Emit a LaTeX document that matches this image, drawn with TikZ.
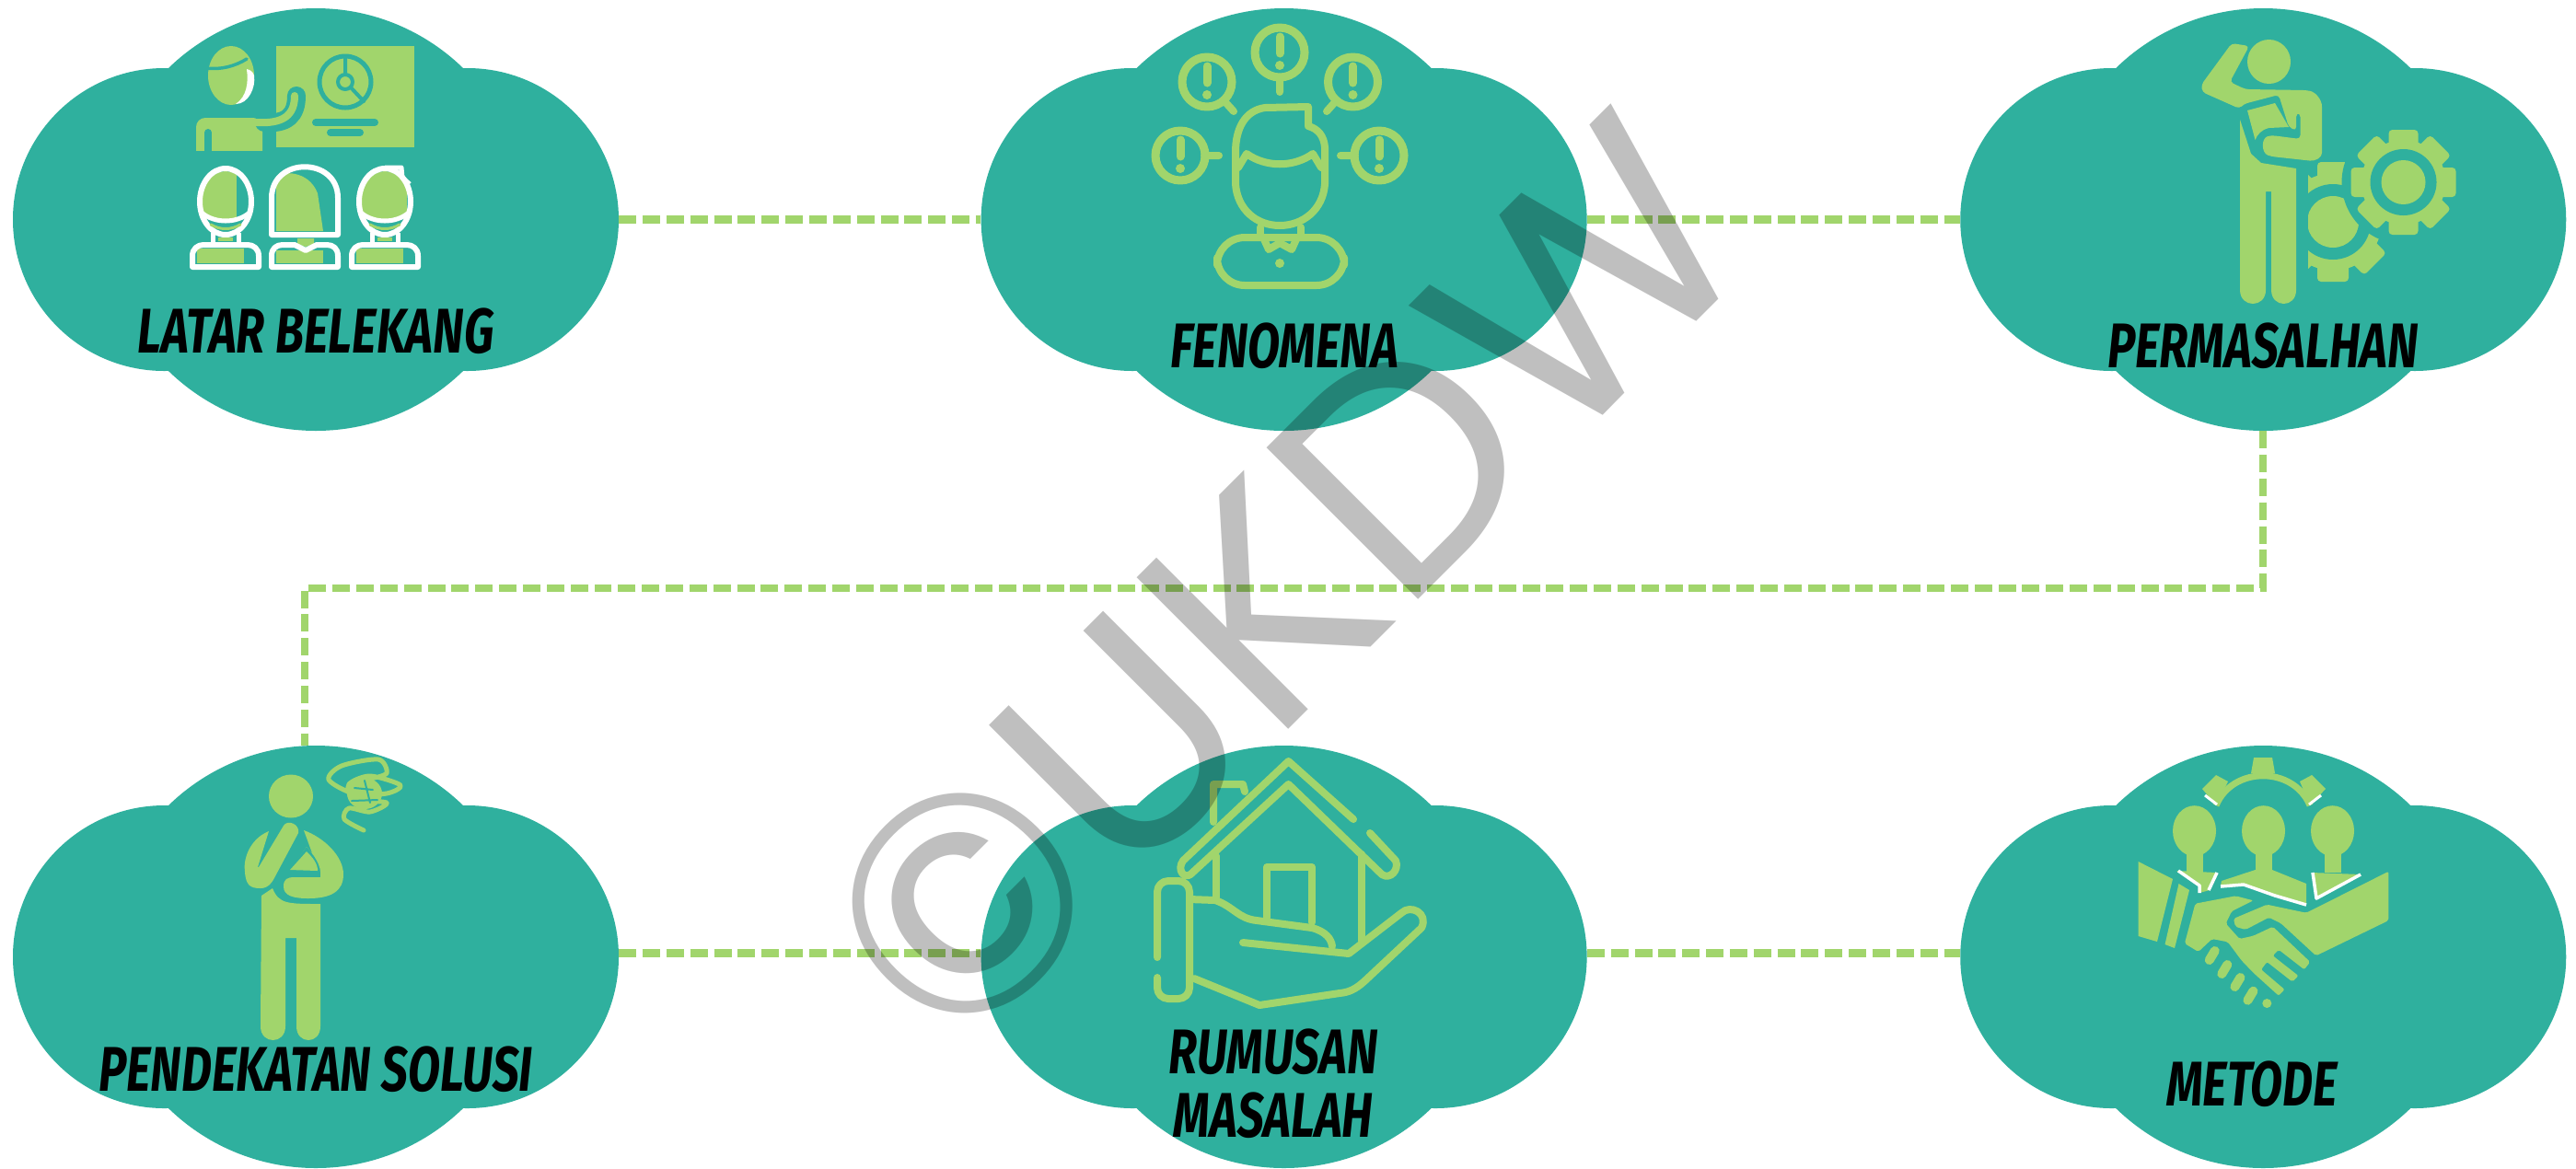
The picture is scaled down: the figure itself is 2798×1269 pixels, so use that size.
\documentclass[tikz,border=0pt]{standalone}
\usepackage{fontspec}
\usepackage{xcolor}
\usepackage{tikz}
\usetikzlibrary{positioning,calc}
\newfontfamily\brushfont[FakeStretch=.745]{Fira Sans}
\newfontfamily\markfont{Poppins}
\definecolor{clumpteal}{HTML}{2FB09E}
\definecolor{leafgreen}{HTML}{A1D56C}
\newcommand{\clumppath}{(0,0) circle[radius=229.5] (-164.5,0) circle[radius=164.5] (164.5,0) circle[radius=164.5]}

\begin{document}
\begin{tikzpicture}[x=.01cm, y=-.01cm,
  clump/.style={minimum width=6.58cm, minimum height=4.59cm, inner sep=0pt, outer sep=0pt,
    path picture={\fill[clumpteal, nonzero rule, shift={(path picture bounding box.center)}] \clumppath;}},
  brush/.style={font=\brushfont\fontsize{19.5}{19.6}\selectfont\bfseries\itshape, align=center, inner sep=0pt},
  link/.style={draw=leafgreen, line width=.085cm, dash pattern=on 5.4pt off 1.95pt},
  leaf/.style={fill=leafgreen},
  tealfill/.style={fill=clumpteal},
  leafline/.style={draw=leafgreen, line width=.08cm, line cap=round, line join=round},
  tealline/.style={draw=clumpteal, line cap=round, line join=round},
  whiteline/.style={draw=white, line join=round},
  stamp/.style={font=\markfont\fontsize{95}{95}\selectfont, text=black, text opacity=.25, inner sep=0pt},
]
\useasboundingbox (0,0) rectangle (2798,1269);
\fill[white] (0,0) rectangle (2798,1269);

% Clouds, top row
\node[clump] (latar) at (343,238.5) {};
\node[clump, right=3.93cm of latar] (fenomena) {};
\node[clump, right=4.05cm of fenomena] (masalah) {};

% Clouds, bottom row
\node[clump] (solusi) at (343,1039.5) {};
\node[clump, right=3.93cm of solusi] (rumusan) {};
\node[clump, right=4.05cm of rumusan] (metode) {};

% Dashed links
\coordinate (turnright) at (2458,639);
\coordinate (turnleft) at (331,639);
\draw[link] (latar.east) -- (fenomena.west);
\draw[link] (fenomena.east) -- (masalah.west);
\draw[link] (masalah.south -| turnright) -- (turnright) -- (turnleft) -- (solusi.north -| turnleft);
\draw[link] (solusi.east |- 0,1035.5) -- (rumusan.west |- 0,1035.5);
\draw[link] (rumusan.east |- 0,1035.5) -- (metode.west |- 0,1035.5);

% Icon: teacher and pupils
\fill[leaf] (300,50) rectangle (450,160);
\draw[tealline, line width=.05cm] (375,89) circle[radius=28];
\draw[tealline, line width=.04cm] (375,61) -- (375,80) (375,89) circle[radius=8] (381,95) -- (395,110);
\draw[tealline, line width=.08cm] (343,133) -- (407,133);
\draw[tealline, line width=.08cm] (359,144) -- (391,144);
\fill[leaf] (251,82) ellipse[x radius=25, y radius=32];
\fill[white] (268,75) .. controls (270,90) and (268,105) .. (256,113) .. controls (270,113) and (278,95) .. (276,82) .. controls (275,78) and (272,76) .. (268,75) -- cycle;
\draw[tealline, line width=.035cm] (224,74) .. controls (240,76) and (255,72) .. (268,64);
\fill[leaf, rounded corners=.1cm] (213,185) -- (213,128) -- (285,128) -- (285,185) -- cycle;
\fill[clumpteal] (205,164) rectangle (299,190);
\draw[tealline, line width=.08cm] (226,170) -- (226,144);
\draw[tealline, line width=.2cm] (287,133) .. controls (312,135) and (322,125) .. (322,104);
\draw[draw=leafgreen, line width=.08cm, line cap=round] (277,133) .. controls (308,135) and (320,125) .. (320,104);
\foreach \cx/\gr in {245/12, 418/24} {
  \begin{scope}[shift={(\cx,0)}]
    \begin{scope}
      \clip (0,219) ellipse[x radius=26, y radius=33];
      \fill[leaf] (-30,180) rectangle (\gr,238);
    \end{scope}
    \draw[whiteline, line width=.06cm] (0,219) ellipse[x radius=28, y radius=36];
    \draw[whiteline, line width=.05cm] (-26,231) .. controls (-12,243) and (12,243) .. (26,231);
    \draw[leafline, line width=.03cm] (-16,244) .. controls (-6,250) and (6,250) .. (16,244);
    \fill[leaf] (-8,258) rectangle (8,262);
    \draw[whiteline, line width=.05cm] (-14,253) -- (-14,264) (14,253) -- (14,264);
    \fill[leaf] (-31,270) rectangle (20,286);
    \draw[whiteline, line width=.06cm] (-36,290) -- (-36,278) .. controls (-36,270) and (-30,266) .. (-24,266) -- (24,266) .. controls (30,266) and (36,270) .. (36,278) -- (36,290) -- cycle;
  \end{scope}
}
\draw[whiteline, line width=.05cm] (418,182) -- (436,182) -- (437,193) -- (445,200);
\fill[leaf] (300,192) .. controls (305,186) and (335,184) .. (345,210) -- (351,251) -- (300,251) -- cycle;
\draw[whiteline, line width=.06cm] (295,255) -- (295,215) .. controls (295,170) and (367,170) .. (367,215) -- (367,255) -- cycle;
\fill[leaf] (323,259) -- (341,259) -- (341,265) -- (332,268) -- (323,265) -- cycle;
\fill[leaf] (300,272) rectangle (351,286);
\draw[whiteline, line width=.06cm] (295,290) -- (295,278) .. controls (295,270) and (300,266) .. (307,266) -- (320,266) -- (332,272) -- (344,266) -- (355,266) .. controls (362,266) and (367,270) .. (367,278) -- (367,290) -- cycle;

% Icon: person with alert bubbles
\foreach \bx/\by/\sx/\sy in {1390/57/1390/100, 1311/89/1340/121, 1469.5/89/1441/121, 1282/169/1324/169, 1498/169/1456/169} {
  \draw[leafline, line width=.09cm] (\bx,\by) circle[radius=27];
  \draw[leafline] ($(\bx,\by)!.62!(\sx,\sy)$) -- (\sx,\sy);
  \draw[leafline, line width=.09cm] (\bx,\by-17) -- (\bx,\by+1);
  \fill[leaf] (\bx,\by+14) circle[radius=5];
}
\draw[leafline] (1421,116) -- (1374,117) .. controls (1352,120) and (1342,140) .. (1342,165) -- (1342,200) .. controls (1344,228) and (1365,245) .. (1390,245) .. controls (1415,245) and (1437,228) .. (1439,200) -- (1439,160) .. controls (1438,148) and (1432,140) .. (1421,137) -- cycle;
\draw[leafline] (1345,182) -- (1354,167) .. controls (1375,182) and (1405,182) .. (1426,167) -- (1435,182);
\draw[leafline] (1369,247) -- (1369,258) (1413,247) -- (1413,258);
\draw[leafline, rounded corners=.3cm] (1322,310) -- (1322,258) -- (1460,258) -- (1460,310) -- cycle;
\draw[leafline] (1373,260) -- (1378,271) -- (1390,264) -- (1403,271) -- (1408,260);
\fill[leaf] (1390,286) circle[radius=5];

% Icon: person with gears
\begin{scope}
  \clip (2507,150) rectangle (2620,330);
  \foreach \a in {0,45,...,315} {
    \fill[leaf, rounded corners=.04cm, shift={(2534,241)}, rotate=\a] (40,-17) rectangle (65,17);
  }
  \fill[leaf] (2534,241) circle[radius=53];
  \fill[tealfill] (2534,241) circle[radius=41];
  \fill[leaf] (2534,241) circle[radius=28];
\end{scope}
\fill[tealfill] (2610.5,198) circle[radius=67];
\foreach \a in {0,45,...,315} {
  \fill[leaf, rounded corners=.04cm, shift={(2610.5,198)}, rotate=\a] (38,-16) rectangle (57,16);
}
\fill[leaf] (2610.5,198) circle[radius=46];
\fill[tealfill] (2610.5,198) circle[radius=36];
\fill[leaf] (2610.5,198) circle[radius=24];
\fill[leaf] (2464.5,67) ellipse[x radius=23.5, y radius=24];
\fill[leaf, rounded corners=.04cm] (2424,47) -- (2443,50) -- (2422,89) -- (2439,97) -- (2505,98) .. controls (2515,100) and (2522,108) .. (2522,120) -- (2522,170) -- (2513,175) -- (2467,170) .. controls (2456,166) and (2456,150) .. (2467,147) -- (2498.5,151) -- (2498.5,123) -- (2494,123) -- (2494,142) -- (2486,138) -- (2475,103) -- (2437,113) -- (2432.5,118) -- (2392,100) -- (2391,92) -- cycle;
\fill[leaf] (2441,120) -- (2471,112) -- (2486,138) -- (2464.5,139) .. controls (2456,141) and (2452,146) .. (2449.5,152) -- cycle;
\fill[leaf] (2433,130) -- (2445,167) -- (2456,177) -- (2494,183) -- (2494,315) .. controls (2494,335) and (2467,335) .. (2467,315) -- (2467,208) -- (2461,208) -- (2461,315) .. controls (2461,335) and (2433,335) .. (2433,315) -- cycle;

% Icon: thinking person
\fill[leaf] (316,865) ellipse[x radius=24, y radius=23.5];
\fill[leaf] (284,973) -- (296,965) .. controls (303,982) and (312,982) .. (348,982) -- (348,1115) .. controls (348,1135) and (322,1135) .. (322,1115) -- (322,1019) -- (310,1019) -- (310,1115) .. controls (310,1135) and (283,1135) .. (283,1115) -- cycle;
\fill[leaf] (292,903) .. controls (270,912) and (264,935) .. (266,947) .. controls (267,962) and (272,965) .. (283,965) .. controls (292,965) and (296,958) .. (300,950) -- (324,905) .. controls (326,895) and (312,890) .. (308,897) -- (281,942) -- (280,942) -- cycle;
\fill[leaf] (330,902) .. controls (352,910) and (373,930) .. (373,950) .. controls (373,968) and (360,976) .. (335,976) .. controls (318,976) and (308,973) .. (308,963) .. controls (308,955) and (312,953) .. (320,953) -- (348,953) .. controls (350,940) and (340,928) .. (333,920) -- (315,945) -- (346,946) -- (330,902) -- cycle;
\fill[clumpteal] (333,920) -- (313,946) -- (346,947) .. controls (345,935) and (340,928) .. (333,920) -- cycle;
\fill[leaf] (333,925) -- (315,945) -- (345,946) .. controls (345,938) and (340,932) .. (333,925) -- cycle;
\fill[leaf] (396,862) ellipse[x radius=19, y radius=17];
\draw[leafline, line width=.05cm] plot[smooth] coordinates {(395,902) (374,890) (379,878) (402,882) (420,872) (384,868) (379,852) (402,843) (435,853) (420,862) (384,862) (357,847) (371,832) (411,825) (420,840) (402,846)};
\draw[tealline, line width=.02cm] (385,856) -- (405,858) (382,870) -- (410,869) (396,848) -- (402,872);

% Icon: hand holding house
\draw[leafline] (1470,890) -- (1399.5,827) -- (1285,935) .. controls (1278,945) and (1286,955) .. (1293,950) -- (1399.5,852) -- (1501,950) .. controls (1510,956) and (1520,945) .. (1516,935) -- (1488,905);
\draw[leafline] (1318,893) -- (1318,852) -- (1350,852) -- (1352,860);
\draw[leafline] (1321,930) -- (1321,975) (1479,928) -- (1479,1022);
\draw[leafline] (1376,997) -- (1376,942) -- (1425,942) -- (1425,1002);
\draw[leafline, rounded corners=.12cm] (1257,1040) -- (1257,957) -- (1292,957) -- (1292,1085) -- (1257,1085) -- (1257,1062);
\draw[leafline] (1292,977) -- (1320,978) .. controls (1340,985) and (1345,998) .. (1365,1000) -- (1425,1008) .. controls (1440,1012) and (1446,1020) .. (1447,1028);
\draw[leafline] (1350,1024) -- (1465,1036) -- (1522,992) .. controls (1532,982) and (1552,992) .. (1544,1008) -- (1482,1066) .. controls (1472,1075) and (1465,1078) .. (1455,1079) -- (1368,1092) -- (1297,1063);

% Icon: handshake and team
\draw[draw=leafgreen, line width=.07cm] (2407,875) .. controls (2425,832) and (2491,832) .. (2509,875);
\fill[leaf] (2445,840) -- (2448,823) -- (2468,823) -- (2471,840) -- cycle;
\fill[leaf] (2392,857) -- (2407,842) -- (2420,849) -- (2407,875) -- cycle;
\fill[leaf] (2526,857) -- (2511,842) -- (2498,849) -- (2509,875) -- cycle;
\draw[whiteline, line width=.03cm] (2395,864) -- (2408,874) (2508,874) -- (2521,864);
\foreach \hx in {2383.5,2458.5,2533.5} {
  \fill[leaf] (\hx,902.7) ellipse[x radius=23.5, y radius=27.5];
  \fill[leaf] (\hx-9,925) rectangle (\hx+9,948);
}
\fill[leaf] (2364,946) -- (2408,948) -- (2400,967) -- (2389,970) -- (2388,962) -- cycle;
\fill[leaf] (2511,948) -- (2564.6,950) -- (2515.6,975) -- cycle;
\fill[leaf] (2412,962) -- (2413,957) -- (2449.5,945) -- (2468,945) -- (2505,960) -- (2505,982) -- (2471,972) -- (2437,960) -- cycle;
\draw[whiteline, line width=.035cm] (2366,946) -- (2389,962) -- (2389,970) (2399,967) -- (2408,948);
\draw[whiteline, line width=.035cm] (2412,963) -- (2437,961) -- (2471,973) -- (2505,983);
\draw[whiteline, line width=.035cm] (2512,948) -- (2516,976) -- (2564,950);
\fill[leaf] (2322.6,936) -- (2360,955) -- (2343,1023) -- (2322.6,1017) -- cycle;
\fill[leaf] (2366.5,960) -- (2378,967) -- (2362,1030) -- (2351.5,1026) -- cycle;
\fill[leaf, rounded corners=.02cm] (2384.4,981.7) -- (2428.3,973.3) -- (2447.4,978.3) -- (2424,990) -- (2417.6,1003.3) -- (2432.5,1020) -- (2447.4,1016.7) -- (2468.7,1006.7) -- (2509.2,1045) -- (2502.8,1053.3) -- (2475,1031.7) -- (2468.7,1038.3) -- (2496.4,1060) -- (2490,1066.7) -- (2462.3,1045) -- (2456,1053.3) -- (2481.5,1075) -- (2475,1081.7) -- (2447.4,1056.7) -- (2434.6,1043.3) -- (2419.7,1023.3) -- (2402.7,1020) -- (2387.8,1034) -- (2372.9,1025) -- cycle;
\fill[leaf, rounded corners=.02cm] (2594.4,946.7) -- (2594.4,1000) -- (2515.6,1038.3) -- (2477.3,1003) -- (2464.5,996.7) -- (2439,1010) -- (2428,1006.7) -- (2426,998) -- (2462.3,982.7) -- (2505,991.7) -- cycle;
\foreach \fx/\fy in {2402.7/1038, 2416.3/1053, 2430.4/1067, 2444.4/1081.7} {
  \draw[draw=leafgreen, line width=.1cm, line cap=round] (\fx-3,\fy+5) -- (\fx+3,\fy-5);
}
\fill[leaf] (2462.3,1090) circle[radius=5];

% Labels
\node[brush] (latarlabel) at (343,360) {LATAR BELEKANG};
\node[brush] (fenomenalabel) at (1395,376) {FENOMENA};
\node[brush] (masalahlabel) at (2458,376) {PERMASALHAN};
\node[brush] (solusilabel) at (343,1162) {PENDEKATAN SOLUSI};
\node[brush] (rumusanlabel) at (1383,1177) {RUMUSAN\\MASALAH};
\node[brush] (metodelabel) at (2446,1178) {METODE};

% Watermark over everything
\node[stamp, rotate=45] (watermark) at (1395,632) {©UKDW};
\end{tikzpicture}
\end{document}
